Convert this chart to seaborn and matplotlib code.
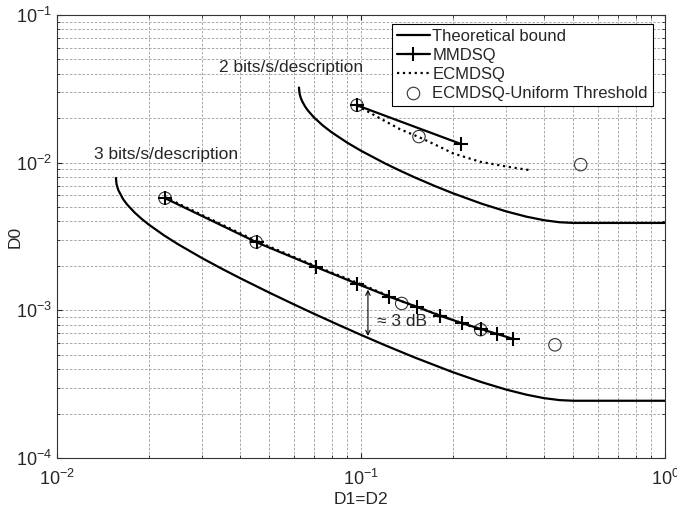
import numpy as np
import matplotlib
matplotlib.use("Agg")
import matplotlib.pyplot as plt
import seaborn as sns
from matplotlib.lines import Line2D

# Theoretical bound, 3 bits/s/description (D1=D2, D0)
bound3_d = [0.015625, 0.0157, 0.0159, 0.0165, 0.017, 0.018, 0.019, 0.02, 0.0225, 0.025,
            0.03, 0.035, 0.04, 0.05, 0.06, 0.07, 0.085, 0.1, 0.12, 0.15, 0.2, 0.25,
            0.3, 0.35, 0.4, 0.45, 0.5, 1.0]
bound3_d0 = [7.874e-3, 7.145e-3, 6.539e-3, 5.661e-3, 5.213e-3, 4.594e-3, 4.157e-3,
             3.820e-3, 3.217e-3, 2.805e-3, 2.258e-3, 1.904e-3, 1.6525e-3, 1.3162e-3,
             1.100e-3, 9.486e-4, 7.91e-4, 6.819e-4, 5.80e-4, 4.798e-4, 3.819e-4,
             3.257e-4, 2.908e-4, 2.684e-4, 2.543e-4, 2.466e-4, 2.4414e-4, 2.4414e-4]

# Theoretical bound, 2 bits/s/description
bound2_d = [0.0625, 0.0628, 0.0633, 0.064, 0.0655, 0.067, 0.07, 0.075, 0.08, 0.09,
            0.1, 0.12, 0.135, 0.15, 0.175, 0.2, 0.25, 0.3, 0.35, 0.4, 0.45, 0.5, 1.0]
bound2_d0 = [0.032258, 0.029346, 0.027648, 0.026129, 0.023972, 0.022453, 0.020267,
             0.017808, 0.016076, 0.013679, 0.012041, 0.009879, 0.008789, 0.007960,
             0.006946, 0.006221, 0.005264, 0.004680, 0.004309, 0.004077, 0.003949,
             0.0039063, 0.0039063]

# MMDSQ
mmdsq3_d = [0.02266, 0.04548, 0.0711, 0.0970, 0.1236, 0.1528, 0.1819, 0.2149, 0.2481, 0.2802, 0.3162]
mmdsq3_d0 = [5.75e-3, 2.88e-3, 1.965e-3, 1.514e-3, 1.240e-3, 1.055e-3, 9.19e-4, 8.19e-4, 7.47e-4, 6.92e-4, 6.41e-4]
mmdsq2_d = [0.0970, 0.2133]
mmdsq2_d0 = [0.02447, 0.01338]

# ECMDSQ
ecm3_d = [0.02266, 0.0455, 0.0711, 0.0970, 0.1364, 0.1819, 0.2284, 0.2802]
ecm3_d0 = [5.84e-3, 2.93e-3, 1.99e-3, 1.54e-3, 1.15e-3, 9.26e-4, 7.82e-4, 6.84e-4]
ecm2_d = [0.0970, 0.1155, 0.1344, 0.1551, 0.1819, 0.2007, 0.2462, 0.3022, 0.3652]
ecm2_d0 = [0.0244, 0.01995, 0.01685, 0.01490, 0.01278, 0.01157, 0.01015, 9.40e-3, 8.85e-3]

# ECMDSQ-Uniform Threshold
unif_d = [0.02266, 0.0452, 0.1361, 0.2475, 0.4345, 0.0970, 0.1551, 0.528]
unif_d0 = [5.75e-3, 2.90e-3, 1.113e-3, 7.4e-4, 5.84e-4, 0.02447, 0.01502, 9.70e-3]

sns.set_style("ticks")
plt.rcParams['font.family'] = ['Liberation Sans', 'DejaVu Sans']
plt.rcParams['mathtext.default'] = 'regular'
plt.rcParams['font.size'] = 12

fig = plt.figure(figsize=(6.77, 5.14), dpi=100)
ax = fig.add_axes([57 / 677, 56 / 514, 608 / 677, 443 / 514])
ax.set_xscale('log')
ax.set_yscale('log')

line_kw = dict(ax=ax, color='black', lw=1.6, legend=False)
plus_kw = dict(marker='+', markersize=10, markeredgewidth=1.5, markeredgecolor='black')

sns.lineplot(x=bound3_d, y=bound3_d0, **line_kw)
sns.lineplot(x=bound2_d, y=bound2_d0, **line_kw)
sns.lineplot(x=ecm3_d, y=ecm3_d0, linestyle=':', **line_kw)
sns.lineplot(x=ecm2_d, y=ecm2_d0, linestyle=':', **line_kw)
sns.lineplot(x=mmdsq3_d, y=mmdsq3_d0, **plus_kw, **line_kw)
sns.lineplot(x=mmdsq2_d, y=mmdsq2_d0, **plus_kw, **line_kw)
sns.scatterplot(x=unif_d, y=unif_d0, ax=ax, marker='o', s=80, facecolors='none',
                edgecolor='#333333', linewidth=0.8, legend=False)

ax.set_xlim(1e-2, 1e0)
ax.set_ylim(1e-4, 1e-1)
ax.grid(which='both', color='#9a9a9a', linestyle=(0, (3, 2)), linewidth=0.6)
ax.tick_params(which='both', direction='in', top=True, right=True, labelsize=13)
ax.tick_params(axis='x', which='both', pad=8)
for s in ax.spines.values():
    s.set_linewidth(0.8)
    s.set_color('#333333')

ax.set_xlabel('D1=D2', fontsize=12.5, labelpad=2)
ax.set_ylabel('D0', fontsize=12.5)
ax.yaxis.set_label_coords(-0.056, 0.5)

ax.text(0.01323, 0.0113, '3 bits/s/description', fontsize=12.5, va='center', ha='left')
ax.text(0.0341, 0.0443, '2 bits/s/description', fontsize=12.5, va='center', ha='left')
ax.text(0.1129, 8.45e-4, '\u2248 3 dB', fontsize=12.5, va='center', ha='left')
ax.annotate('', xy=(0.1054, 6.71e-4), xytext=(0.1054, 1.38e-3),
            arrowprops=dict(arrowstyle='<->', color='black', lw=0.8,
                            shrinkA=0, shrinkB=0, mutation_scale=8))

handles = [
    Line2D([], [], color='black', lw=1.6),
    Line2D([], [], color='black', lw=1.6, marker='+', markersize=10, markeredgewidth=1.5),
    Line2D([], [], color='black', lw=1.6, linestyle=':'),
    Line2D([], [], color='#333333', lw=0, marker='o', markersize=9,
           markerfacecolor='none', markeredgewidth=0.8),
]
labels = ['Theoretical bound', 'MMDSQ', 'ECMDSQ', 'ECMDSQ-Uniform Threshold']
leg = ax.legend(handles, labels, loc='upper right', bbox_to_anchor=(0.98, 0.98),
                borderaxespad=0, fancybox=False, framealpha=1, edgecolor='black',
                handlelength=2.0, handletextpad=0.15, labelspacing=0.25,
                borderpad=0.3, fontsize=12)
leg.get_frame().set_linewidth(0.8)

fig.savefig('out.png', dpi=100)
